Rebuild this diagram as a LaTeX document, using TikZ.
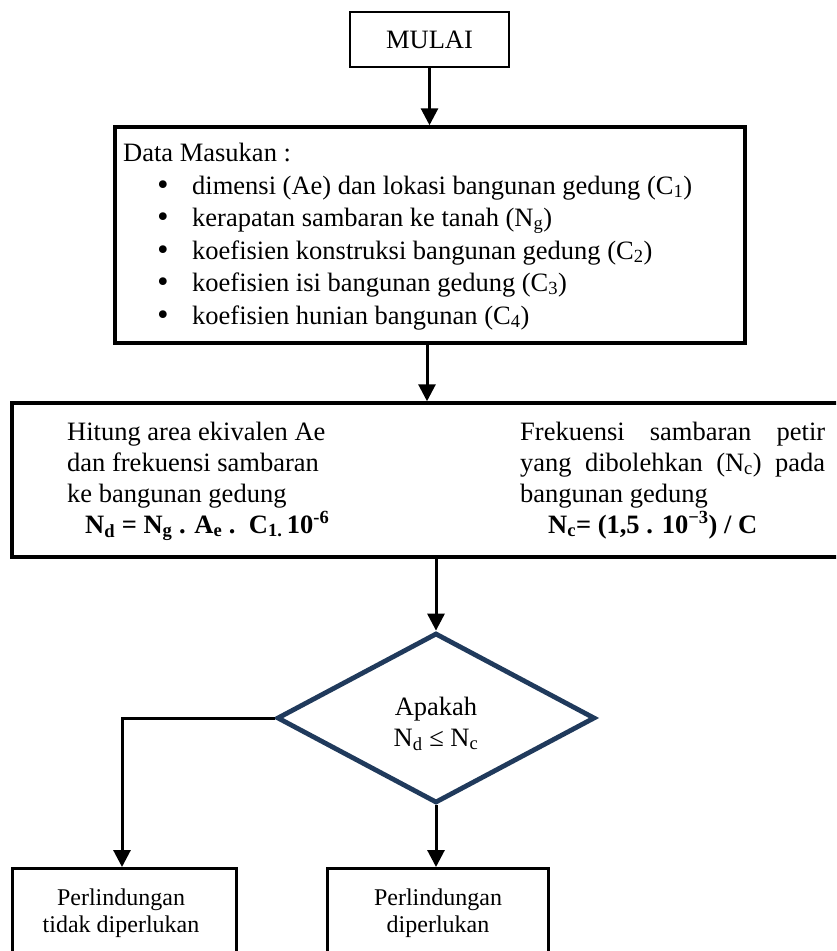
\documentclass[tikz,border=0pt]{standalone}
\usepackage{fontspec}
\setmainfont{Liberation Serif}
\newfontfamily\bulfont{DejaVu Sans}
\usetikzlibrary{shapes.geometric,arrows.meta}
\definecolor{navy}{HTML}{203A5C}
\newcommand{\bigbul}{\makebox[37pt][l]{{\bulfont •}}}
\begin{document}
\begin{tikzpicture}[x=1pt,y=-1pt,
  font=\fontsize{26.5}{32}\selectfont,
  box/.style={draw,rectangle,line width=3.2pt,inner sep=0pt},
  arr/.style={line width=3pt,-{Triangle[width=17pt,length=17pt]}},
  tl/.style={anchor=base west,inner sep=0pt},
  tc/.style={anchor=base,inner sep=0pt},
  small/.style={anchor=base,inner sep=0pt,font=\fontsize{24}{28}\selectfont},
  decision/.style={draw=navy,diamond,line width=4.8pt,inner sep=0pt,minimum width=318pt,minimum height=170pt}
]
\useasboundingbox (0,0) rectangle (836,951);
\clip (0,0) rectangle (836,951);

% start
\node[box,line width=2.6pt,minimum width=159pt,minimum height=55pt] (start) at (429.5,39.5) {MULAI};

% data box
\node[box,line width=3.5pt,minimum width=630pt,minimum height=216pt] (data) at (430,235) {};
\node[tl] (d0) at (123,161) {Data Masukan :};
\node[tl] (d1) at (155,194) {\bigbul dimensi (Ae) dan lokasi bangunan gedung (C\textsubscript{1})};
\node[tl] (d2) at (155,226) {\bigbul kerapatan sambaran ke tanah (N\textsubscript{g})};
\node[tl] (d3) at (155,259) {\bigbul koefisien konstruksi bangunan gedung (C\textsubscript{2})};
\node[tl] (d4) at (155,291) {\bigbul koefisien isi bangunan gedung (C\textsubscript{3})};
\node[tl] (d5) at (155,324) {\bigbul koefisien hunian bangunan (C\textsubscript{4})};

% calculation box
\node[box,line width=3.5pt,minimum width=840pt,minimum height=154pt] (calc) at (432,480) {};
\node[tl] (l1) at (67,440) {Hitung area ekivalen Ae};
\node[tl] (l2) at (67,471) {dan frekuensi sambaran};
\node[tl] (l3) at (67,502) {ke bangunan gedung};
\node[tl] (l4) at (85,533) {\textbf{N\textsubscript{d} = N\textsubscript{g} . A\textsubscript{e} .\ \ C\textsubscript{1.}\,10\textsuperscript{-6}}};
\node[tl] (r1) at (520,440) {\makebox[305pt][l]{Frekuensi\hfill sambaran\hfill petir}};
\node[tl] (r2) at (520,471) {\makebox[305pt][l]{yang\hfill dibolehkan\hfill (N\textsubscript{c})\hfill pada}};
\node[tl] (r3) at (520,502) {bangunan gedung};
\node[tl] (r4) at (548,533) {\textbf{N\textsubscript{c}= (1,5 . 10\textsuperscript{−3}) / C}};

% decision
\node[decision] (dia) at (436,718) {};
\node[tc] (q1) at (436,715) {Apakah};
\node[tc] (q2) at (436,746) {N\textsubscript{d} ≤ N\textsubscript{c}};

% result boxes
\node[box,line width=3pt,minimum width=224pt,minimum height=130pt,anchor=north] (left) at (124,867) {};
\node[box,line width=3pt,minimum width=221pt,minimum height=130pt,anchor=north] (right) at (437.5,867) {};
\node[small] (p1) at (121,905) {Perlindungan};
\node[small] (p2) at (121,932) {tidak diperlukan};
\node[small] (p3) at (438,905) {Perlindungan};
\node[small] (p4) at (438,932) {diperlukan};

% connectors
\draw[arr] (start.south) -- (start.south |- data.north);
\draw[arr] ([xshift=-3pt]data.south) -- ([xshift=-3pt]data.south |- calc.north);
\draw[arr] (calc.south -| dia.north) -- (dia.north);
\draw[arr] (dia.west) -| ([xshift=-2pt]left.north);
\draw[arr] (dia.south) -- (dia.south |- right.north);
\end{tikzpicture}
\end{document}
